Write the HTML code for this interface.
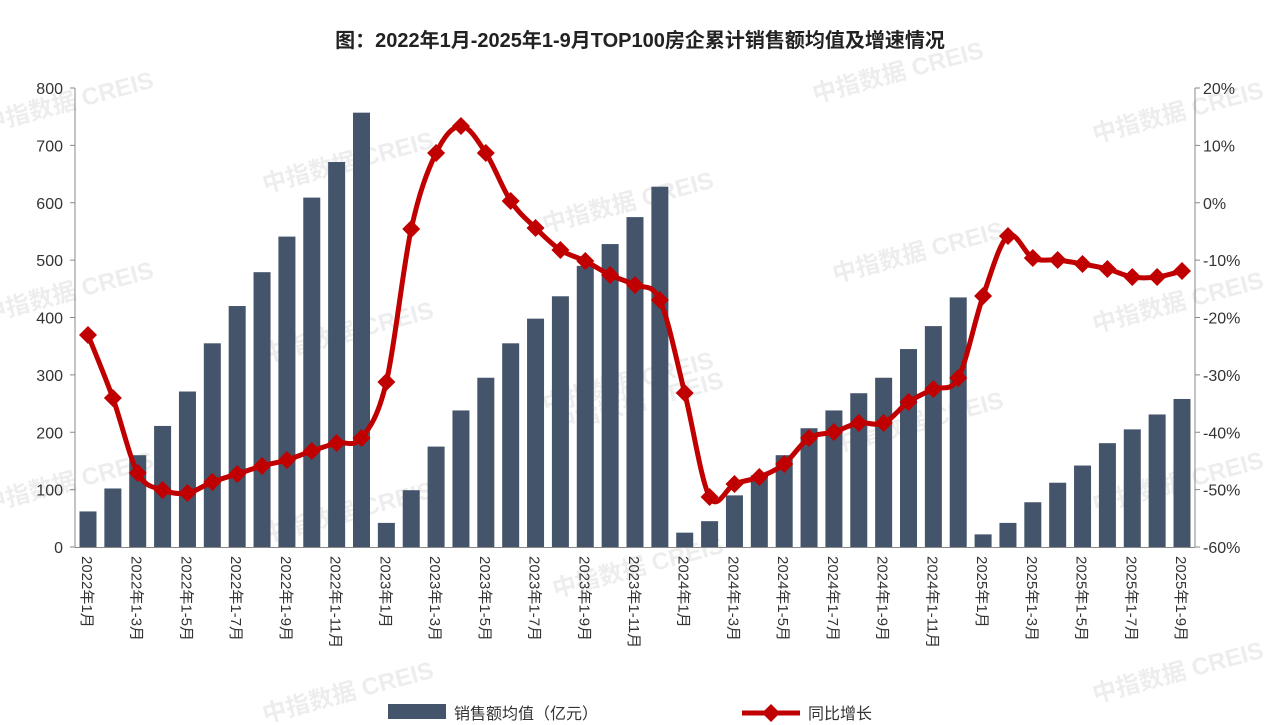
<!DOCTYPE html>
<html><head><meta charset="utf-8"><style>
body{margin:0;background:#fff;}
svg{display:block;font-family:"Liberation Sans","Noto Sans CJK SC",sans-serif;}
</style></head><body>
<svg id="s" width="1280" height="725" xmlns="http://www.w3.org/2000/svg"></svg>
<script>
const s=document.getElementById('s');
let h='';
h+='<text x="640" y="47" text-anchor="middle" font-size="20" font-weight="bold" fill="#222">图：2022年1月-2025年1-9月TOP100房企累计销售额均值及增速情况</text>';
// watermarks
const wm=[[70,110],[350,170],[630,210],[920,260],[1180,120],[70,300],[350,340],[630,390],[920,430],[1180,310],[70,490],[350,520],[640,575],[1180,490],[640,410],[350,700],[1180,680],[900,80]];
wm.forEach(([x,y])=>{h+=`<text x="${x}" y="${y}" font-size="24" font-weight="bold" fill="#000" fill-opacity="0.07" transform="rotate(-15 ${x} ${y})" text-anchor="middle">中指数据 CREIS</text>`;});
const y0=547,ppu=459/800;
// axes
h+=`<line x1="75" y1="88" x2="75" y2="547" stroke="#888"/><line x1="1195" y1="88" x2="1195" y2="547" stroke="#888"/><line x1="75" y1="547.5" x2="1195" y2="547.5" stroke="#888"/>`;
for(let i=0;i<=8;i++){const y=y0-i*100*ppu;h+=`<line x1="70" y1="${y}" x2="75" y2="${y}" stroke="#888"/><text x="63" y="${y+6}" font-size="16" text-anchor="end" fill="#333">${i*100}</text>`;
const v=-60+i*10;h+=`<line x1="1195" y1="${y}" x2="1200" y2="${y}" stroke="#888"/><text x="1203" y="${y+6}" font-size="16" fill="#333">${v}%</text>`;}
const bars=[62,102,160,211,271,355,420,479,541,609,671,757,42,99,175,238,295,355,398,437,490,528,575,628,25,45,90,125,160,207,238,268,295,345,385,435,22,42,78,112,142,181,205,231,258];
const pys=[335,398,473,490,493,482,474,466,460,451,443,438,382,229,153,126,153,201,228,250,261,275,285,300,393,497,484,477,464,438,432,423,423,402,389,378,296,236,258,260,264,269,277,277,271];
const dx=(1182-88)/44;
bars.forEach((b,i)=>{const x=88+i*dx,hh=b*ppu;h+=`<rect x="${x-8.5}" y="${y0-hh}" width="17" height="${hh}" fill="#44546a"/>`;});
// labels
const yrs=[2022,2023,2024,2025];
for(let i=0;i<45;i+=2){const yi=Math.floor(i/12),m=i%12+1;const t=m==1?`${yrs[yi]}年1月`:`${yrs[yi]}年1-${m}月`;const x=88+i*dx;
h+=`<text x="${x-6}" y="556" font-size="15" fill="#333" transform="rotate(90 ${x-6} 556)">${t}</text>`;}
// smooth line
const P=pys.map((y,i)=>[88+i*dx,y]);
let d=`M${P[0][0]},${P[0][1]}`;
for(let i=0;i<P.length-1;i++){const p0=P[Math.max(i-1,0)],p1=P[i],p2=P[i+1],p3=P[Math.min(i+2,P.length-1)];
const c1=[p1[0]+(p2[0]-p0[0])/6,p1[1]+(p2[1]-p0[1])/6],c2=[p2[0]-(p3[0]-p1[0])/6,p2[1]-(p3[1]-p1[1])/6];
d+=` C${c1[0]},${c1[1]} ${c2[0]},${c2[1]} ${p2[0]},${p2[1]}`;}
h+=`<path d="${d}" fill="none" stroke="#c00000" stroke-width="5"/>`;
P.forEach(([x,y])=>{h+=`<path d="M${x},${y-9}L${x+9},${y}L${x},${y+9}L${x-9},${y}Z" fill="#c00000"/>`;});
// legend
h+=`<rect x="388" y="704" width="58" height="15" fill="#44546a"/><text x="454" y="719" font-size="16" fill="#333">销售额均值（亿元）</text>`;
h+=`<line x1="742" y1="713" x2="800" y2="713" stroke="#c00000" stroke-width="5"/><path d="M771,704L780,713L771,722L762,713Z" fill="#c00000"/><text x="808" y="719" font-size="16" fill="#333">同比增长</text>`;
s.innerHTML=h;
</script>
</body></html>
